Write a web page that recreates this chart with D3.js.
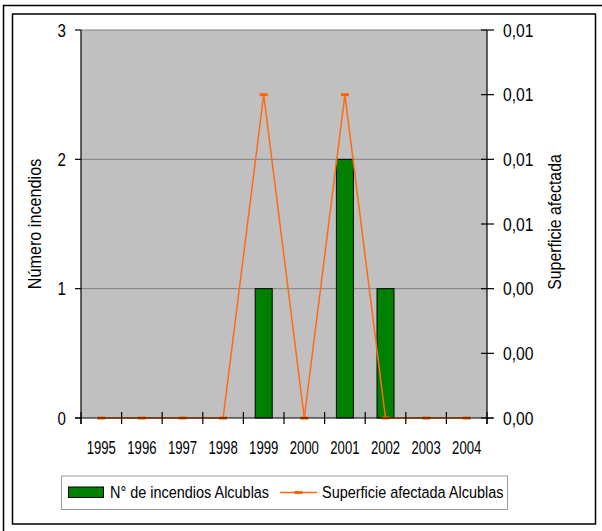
<!DOCTYPE html>
<html>
<head>
<meta charset="utf-8">
<script src="https://cdn.jsdelivr.net/npm/d3@7"></script>
<style>
  body { margin: 0; background: #fff; }
  text { font-family: Arial, "Liberation Sans", sans-serif; fill: #000; }
</style>
</head>
<body>
<svg id="chart" width="602" height="531"></svg>
<script>
// Data
const years = ["1995", "1996", "1997", "1998", "1999", "2000", "2001", "2002", "2003", "2004"];
const fires = [0, 0, 0, 0, 1, 0, 2, 1, 0, 0];
const area = [0, 0, 0, 0, 0.01, 0, 0.01, 0, 0, 0];
const leftTicks = [0, 1, 2, 3];
const rightTicks = [0, 0.002, 0.004, 0.006, 0.008, 0.010, 0.012];

const svg = d3.select("#chart");

// Plot area
const plotLeft = 81, plotRight = 487, plotTop = 30, plotBottom = 418;

const x = d3.scaleBand().domain(years).range([plotLeft, plotRight]);
const yLeft = d3.scaleLinear().domain([0, 3]).range([plotBottom, plotTop]);
const yRight = d3.scaleLinear().domain([0, 0.012]).range([plotBottom, plotTop]);

const es = d3.formatLocale({ decimal: ",", thousands: ".", grouping: [3], currency: ["", "€"] });
const fmt = es.format(".2f");

// Squeezed text helper (the picture's font is narrow and tall)
function label(g, str, tx, ty, sx, size, anchor, rot) {
    return g.append("text")
        .attr("transform", "translate(" + tx + "," + ty + ")" + (rot ? " rotate(" + rot + ")" : "") + " scale(" + sx + ",1)")
        .attr("font-size", size)
        .attr("text-anchor", anchor)
        .text(str);
}

// Frames
svg.append("path").attr("d", "M3.5,531V5.5H602").attr("fill", "none").attr("stroke", "#000").attr("stroke-width", 1.5);
svg.append("rect").attr("x", 12.5).attr("y", 14).attr("width", 583).attr("height", 510)
    .attr("fill", "#fff").attr("stroke", "#000").attr("stroke-width", 1.5);

// Plot background
svg.append("rect").attr("x", plotLeft).attr("y", plotTop).attr("width", plotRight - plotLeft).attr("height", plotBottom - plotTop)
    .attr("fill", "#c0c0c0");

// Gridlines
svg.append("g").selectAll("line").data(leftTicks.filter(d => d > 0)).join("line")
    .attr("x1", plotLeft).attr("x2", plotRight)
    .attr("y1", d => yLeft(d)).attr("y2", d => yLeft(d))
    .attr("stroke", "#808080").attr("stroke-width", 1);

// Bars
const bw = 17;
svg.append("g").selectAll("rect").data(years.map((y, i) => ({ y: y, v: fires[i] })).filter(d => d.v > 0)).join("rect")
    .attr("x", d => x(d.y) + x.bandwidth() / 2 - bw / 2)
    .attr("y", d => yLeft(d.v))
    .attr("width", bw)
    .attr("height", d => plotBottom - yLeft(d.v))
    .attr("fill", "#008000")
    .attr("stroke", "#000")
    .attr("stroke-width", 1);

// Line
const line = d3.line()
    .x((d, i) => x(years[i]) + x.bandwidth() / 2)
    .y(d => yRight(d));
svg.append("path").datum(area).attr("d", line)
    .attr("fill", "none").attr("stroke", "#ff6a13").attr("stroke-width", 1.5);
svg.append("g").selectAll("rect").data(area).join("rect")
    .attr("x", (d, i) => x(years[i]) + x.bandwidth() / 2 - 4)
    .attr("y", d => yRight(d) - 1.5)
    .attr("width", 8).attr("height", 3)
    .attr("fill", "#ff6600");

// Axes lines
const axes = svg.append("g").attr("stroke", "#000").attr("stroke-width", 1.2);
axes.append("line").attr("x1", plotLeft).attr("x2", plotLeft).attr("y1", plotTop).attr("y2", plotBottom + 6);
axes.append("line").attr("x1", plotRight).attr("x2", plotRight).attr("y1", plotTop).attr("y2", plotBottom + 6);
axes.append("line").attr("x1", plotLeft - 6).attr("x2", plotRight + 6).attr("y1", plotBottom).attr("y2", plotBottom);

// Left ticks and labels
axes.selectAll(".lt").data(leftTicks).join("line").attr("class", "lt")
    .attr("x1", plotLeft - 6).attr("x2", plotLeft)
    .attr("y1", d => yLeft(d)).attr("y2", d => yLeft(d));
const tl = svg.append("g");
leftTicks.forEach(d => label(tl, d, 66, yLeft(d) + 6.5, 0.84, 18, "end"));

// Right ticks and labels
axes.selectAll(".rt").data(rightTicks).join("line").attr("class", "rt")
    .attr("x1", plotRight - 6).attr("x2", plotRight + 7)
    .attr("y1", d => yRight(d)).attr("y2", d => yRight(d));
rightTicks.forEach(d => label(tl, fmt(d), 503, yRight(d) + 6.5, 0.87, 18, "start"));

// X ticks at band edges
const edges = years.map(y => x(y)).concat([plotRight]);
axes.selectAll(".xt").data(edges).join("line").attr("class", "xt")
    .attr("x1", d => d).attr("x2", d => d)
    .attr("y1", plotBottom - 6).attr("y2", plotBottom + 6);
years.forEach(y => label(tl, y, x(y) + x.bandwidth() / 2, 454, 0.73, 18, "middle"));

// Axis titles
label(tl, "Número incendios", 41, 224, 0.9, 18, "middle", -90);
label(tl, "Superficie afectada", 561, 222, 0.88, 18, "middle", -90);

// Legend
const lg = svg.append("g");
lg.append("rect").attr("x", 61.5).attr("y", 476).attr("width", 446).attr("height", 33.5)
    .attr("fill", "#fff").attr("stroke", "#999").attr("stroke-width", 1);
lg.append("rect").attr("x", 68.5).attr("y", 487).attr("width", 35).attr("height", 10.5)
    .attr("fill", "#008000").attr("stroke", "#000").attr("stroke-width", 1);
label(lg, "N° de incendios Alcublas", 110, 498, 0.85, 17, "start");
lg.append("line").attr("x1", 280).attr("x2", 317).attr("y1", 492.5).attr("y2", 492.5)
    .attr("stroke", "#ff6a13").attr("stroke-width", 1.5);
lg.append("rect").attr("x", 294.5).attr("y", 491).attr("width", 8).attr("height", 3).attr("fill", "#ff6600");
label(lg, "Superficie afectada Alcublas", 322, 498, 0.85, 17, "start");
</script>
</body>
</html>
